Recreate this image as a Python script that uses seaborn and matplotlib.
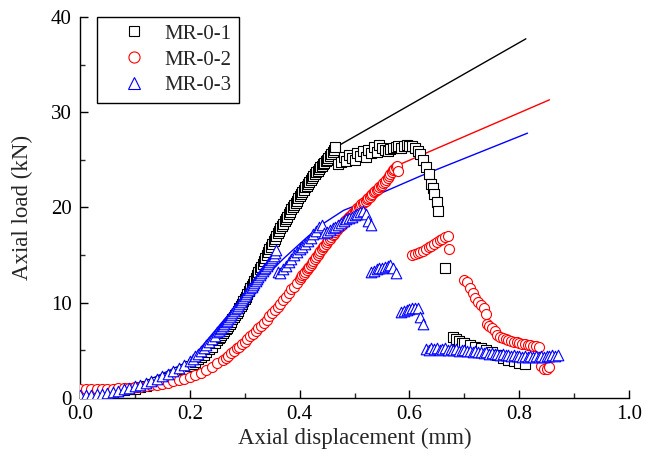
import numpy as np
import seaborn as sns
import matplotlib.pyplot as plt
from matplotlib.lines import Line2D
from matplotlib.ticker import MultipleLocator

# test points, (axial displacement mm, axial load kN), one list per branch
mr1_toe = [(0.00, 0.30), (0.01, 0.32), (0.02, 0.35), (0.03, 0.40), (0.04, 0.46), (0.05, 0.53),
           (0.06, 0.60), (0.07, 0.70), (0.08, 0.80), (0.09, 0.90), (0.10, 1.00), (0.11, 1.15),
           (0.12, 1.30), (0.13, 1.50), (0.14, 1.70), (0.15, 1.90), (0.16, 2.10), (0.17, 2.40),
           (0.18, 2.70), (0.19, 3.00), (0.200, 3.40), (0.205, 3.60), (0.210, 3.80), (0.215, 4.05),
           (0.220, 4.30), (0.225, 4.55), (0.230, 4.80), (0.235, 5.10), (0.240, 5.40), (0.245, 5.75)]
mr1_rise = [(0.2500, 6.10), (0.2525, 6.25), (0.2550, 6.40), (0.2575, 6.60), (0.2600, 6.80),
            (0.2625, 7.00), (0.2650, 7.20), (0.2675, 7.40), (0.2700, 7.60), (0.2725, 7.80),
            (0.2750, 8.00), (0.2775, 8.25), (0.2800, 8.50), (0.2825, 8.70), (0.2850, 8.90),
            (0.2875, 9.15), (0.2900, 9.40), (0.2925, 9.65), (0.2950, 9.90), (0.2975, 10.15),
            (0.3000, 10.40), (0.3025, 10.65), (0.3050, 10.90), (0.3075, 11.20), (0.3100, 11.50),
            (0.3125, 11.75), (0.3150, 12.00), (0.3175, 12.30), (0.3200, 12.60), (0.3225, 12.90),
            (0.3250, 13.20), (0.3275, 13.50), (0.3300, 13.80), (0.3325, 14.10), (0.3350, 14.40),
            (0.3375, 14.70), (0.3400, 15.00), (0.3425, 15.30), (0.3450, 15.60), (0.3475, 15.90),
            (0.3500, 16.20), (0.3525, 16.45), (0.3550, 16.70), (0.3575, 17.00), (0.3600, 17.30),
            (0.3625, 17.55), (0.3650, 17.80), (0.3675, 18.05), (0.3700, 18.30), (0.3725, 18.55),
            (0.3750, 18.80), (0.3775, 19.05), (0.3800, 19.30), (0.3825, 19.55), (0.3850, 19.80),
            (0.3875, 20.05), (0.3900, 20.30), (0.3925, 20.50), (0.3950, 20.70), (0.3975, 20.95),
            (0.4000, 21.20), (0.4025, 21.40), (0.4050, 21.60), (0.4075, 21.85), (0.4100, 22.10),
            (0.4125, 22.30), (0.4150, 22.50), (0.4175, 22.70), (0.4200, 22.90), (0.4225, 23.10),
            (0.4250, 23.30), (0.4275, 23.50), (0.4300, 23.70), (0.4325, 23.85), (0.4350, 24.00),
            (0.4375, 24.20), (0.4400, 24.40), (0.4425, 24.55), (0.4450, 24.70), (0.4475, 24.85),
            (0.4500, 25.00), (0.4525, 25.20), (0.4550, 25.40), (0.4575, 25.60), (0.4600, 25.80),
            (0.4625, 26.05), (0.4650, 26.30)]
mr1_post = [(0.470, 24.6), (0.475, 24.8), (0.480, 25.3), (0.485, 24.9), (0.490, 25.5),
            (0.495, 25.2), (0.500, 25.0), (0.505, 25.7), (0.510, 25.4), (0.515, 25.9),
            (0.520, 25.3), (0.525, 26.0), (0.530, 25.7), (0.535, 26.3), (0.540, 25.8),
            (0.545, 26.6), (0.550, 26.2), (0.555, 26.0), (0.560, 25.9), (0.565, 26.1),
            (0.570, 26.2), (0.575, 26.3), (0.580, 26.4), (0.585, 26.2), (0.590, 26.5),
            (0.595, 26.6), (0.600, 26.4), (0.605, 26.5), (0.610, 26.2), (0.615, 25.9),
            (0.620, 25.6), (0.625, 25.0), (0.630, 24.3), (0.635, 23.5), (0.640, 22.5),
            (0.642, 22.0), (0.645, 21.4), (0.650, 20.6), (0.652, 19.6), (0.665, 13.6),
            (0.680, 6.4), (0.685, 6.2), (0.690, 6.0), (0.695, 5.8), (0.700, 5.8), (0.710, 5.6),
            (0.720, 5.4), (0.730, 5.2), (0.740, 5.0), (0.750, 4.8), (0.760, 4.5), (0.770, 4.2),
            (0.780, 4.0), (0.790, 3.9), (0.800, 3.7), (0.810, 3.6)]

mr2_toe = [(0.00, 0.90), (0.01, 0.90), (0.02, 0.92), (0.03, 0.94), (0.04, 0.96), (0.05, 0.98),
           (0.06, 1.00), (0.07, 1.03), (0.08, 1.06), (0.09, 1.10), (0.10, 1.15), (0.11, 1.20),
           (0.12, 1.26), (0.13, 1.33), (0.14, 1.42), (0.15, 1.52), (0.16, 1.63), (0.17, 1.76),
           (0.18, 1.90), (0.19, 2.05), (0.20, 2.20), (0.21, 2.40), (0.22, 2.65), (0.23, 2.95),
           (0.24, 3.30), (0.25, 3.65), (0.260, 4.0), (0.265, 4.2), (0.270, 4.4), (0.275, 4.7),
           (0.280, 4.9), (0.285, 5.2), (0.290, 5.4), (0.295, 5.7), (0.300, 5.9), (0.305, 6.2),
           (0.310, 6.5), (0.315, 6.7), (0.320, 7.0), (0.325, 7.3), (0.330, 7.6), (0.335, 7.9),
           (0.340, 8.2), (0.345, 8.6), (0.350, 8.9), (0.355, 9.2), (0.360, 9.6), (0.365, 9.9),
           (0.370, 10.3), (0.375, 10.6), (0.380, 11.0), (0.385, 11.4), (0.390, 11.7),
           (0.395, 12.1)]
mr2_rise = [(0.4000, 12.50), (0.4025, 12.70), (0.4050, 12.90), (0.4075, 13.05), (0.4100, 13.20),
            (0.4125, 13.40), (0.4150, 13.60), (0.4175, 13.80), (0.4200, 14.00), (0.4225, 14.20),
            (0.4250, 14.40), (0.4275, 14.60), (0.4300, 14.80), (0.4325, 15.00), (0.4350, 15.20),
            (0.4375, 15.40), (0.4400, 15.60), (0.4425, 15.80), (0.4450, 16.00), (0.4475, 16.20),
            (0.4500, 16.40), (0.4525, 16.55), (0.4550, 16.70), (0.4575, 16.90), (0.4600, 17.10),
            (0.4625, 17.25), (0.4650, 17.40), (0.4675, 17.60), (0.4700, 17.80), (0.4725, 17.95),
            (0.4750, 18.10), (0.4775, 18.25), (0.4800, 18.40), (0.4825, 18.55), (0.4850, 18.70),
            (0.4875, 18.85), (0.4900, 19.00), (0.4925, 19.15), (0.4950, 19.30), (0.4975, 19.45),
            (0.5000, 19.60), (0.5025, 19.75), (0.5050, 19.90), (0.5075, 20.05), (0.5100, 20.20),
            (0.5125, 20.35), (0.5150, 20.50), (0.5175, 20.60), (0.5200, 20.70), (0.5225, 20.85),
            (0.5250, 21.00), (0.5275, 21.15), (0.5300, 21.30), (0.5325, 21.45), (0.5350, 21.60),
            (0.5375, 21.70), (0.5400, 21.80), (0.5425, 21.95), (0.5450, 22.10), (0.5475, 22.25),
            (0.5500, 22.40), (0.5525, 22.55), (0.5550, 22.70), (0.5575, 22.90), (0.5600, 23.10),
            (0.5625, 23.30), (0.5650, 23.50), (0.5675, 23.70), (0.5700, 23.90), (0.5725, 24.05),
            (0.5750, 24.20), (0.5775, 24.40), (0.5800, 23.80)]
mr2_post = [(0.605, 15.0), (0.610, 15.1), (0.615, 15.2), (0.620, 15.3), (0.625, 15.4),
            (0.630, 15.6), (0.635, 15.8), (0.640, 16.0), (0.645, 16.2), (0.650, 16.4),
            (0.655, 16.6), (0.660, 16.7), (0.665, 16.9), (0.670, 17.0), (0.672, 15.6),
            (0.700, 12.4), (0.705, 12.2), (0.710, 11.6), (0.715, 11.0), (0.720, 10.5),
            (0.725, 10.1), (0.730, 9.8), (0.735, 9.4), (0.740, 8.8), (0.742, 7.8), (0.745, 7.6),
            (0.750, 7.3), (0.755, 7.0), (0.760, 6.6), (0.765, 6.4), (0.770, 6.3), (0.775, 6.2),
            (0.780, 6.1), (0.785, 6.0), (0.790, 5.9), (0.795, 5.9), (0.800, 5.8), (0.805, 5.7),
            (0.810, 5.7), (0.815, 5.6), (0.820, 5.6), (0.825, 5.5), (0.830, 5.5), (0.835, 5.4),
            (0.840, 3.4), (0.845, 3.1), (0.850, 3.0), (0.855, 3.3)]

mr3_toe = [(0.00, 0.30), (0.01, 0.32), (0.02, 0.35), (0.03, 0.40), (0.04, 0.47), (0.05, 0.55),
           (0.06, 0.65), (0.07, 0.77), (0.08, 0.90), (0.09, 1.05), (0.10, 1.22), (0.11, 1.40),
           (0.12, 1.60), (0.13, 1.82), (0.14, 2.05), (0.15, 2.30), (0.16, 2.56), (0.17, 2.85),
           (0.18, 3.15), (0.19, 3.50), (0.200, 3.90), (0.205, 4.15), (0.210, 4.40), (0.215, 4.65),
           (0.220, 4.95), (0.225, 5.25), (0.230, 5.55), (0.235, 5.85), (0.240, 6.20),
           (0.245, 6.55)]
mr3_rise = [(0.2500, 6.90), (0.2525, 7.05), (0.2550, 7.25), (0.2575, 7.40), (0.2600, 7.60),
            (0.2625, 7.75), (0.2650, 7.95), (0.2675, 8.10), (0.2700, 8.30), (0.2725, 8.50),
            (0.2750, 8.70), (0.2775, 8.90), (0.2800, 9.10), (0.2825, 9.30), (0.2850, 9.50),
            (0.2875, 9.70), (0.2900, 9.90), (0.2925, 10.10), (0.2950, 10.30), (0.2975, 10.50),
            (0.3000, 10.70), (0.3025, 10.90), (0.3050, 11.10), (0.3075, 11.30), (0.3100, 11.50),
            (0.3125, 11.70), (0.3150, 11.90), (0.3175, 12.10), (0.3200, 12.30), (0.3225, 12.50),
            (0.3250, 12.70), (0.3275, 12.90), (0.3300, 13.10), (0.3325, 13.30), (0.3350, 13.50),
            (0.3375, 13.70), (0.3400, 13.90), (0.3425, 14.10), (0.3450, 14.30), (0.3475, 14.50),
            (0.3500, 14.70), (0.3525, 14.95), (0.3550, 15.20), (0.3575, 15.50)]
mr3_post = [(0.360, 13.2), (0.365, 13.1), (0.370, 13.5), (0.375, 13.9), (0.380, 14.3),
            (0.385, 14.6), (0.390, 15.0), (0.395, 15.3), (0.400, 15.6), (0.405, 15.9),
            (0.410, 16.2), (0.415, 16.5), (0.420, 16.8), (0.425, 17.2), (0.430, 17.5),
            (0.435, 17.9), (0.440, 18.2), (0.445, 17.3), (0.450, 17.4), (0.455, 17.6),
            (0.460, 17.8), (0.465, 18.0), (0.470, 18.2), (0.475, 18.4), (0.480, 18.6),
            (0.485, 18.8), (0.490, 18.9), (0.495, 19.0), (0.500, 19.2), (0.505, 19.3),
            (0.510, 19.5), (0.515, 19.6), (0.520, 19.3), (0.525, 18.6), (0.530, 18.2),
            (0.530, 13.2), (0.535, 13.3), (0.540, 13.5), (0.545, 13.6), (0.550, 13.7),
            (0.555, 13.8), (0.560, 13.9), (0.565, 14.0), (0.570, 13.6), (0.575, 13.1),
            (0.585, 9.0), (0.590, 9.1), (0.595, 9.2), (0.600, 9.3), (0.605, 9.4), (0.610, 9.5),
            (0.615, 9.4), (0.620, 8.5), (0.625, 7.8),
            (0.630, 5.1), (0.635, 5.0), (0.640, 5.2), (0.645, 5.1), (0.650, 5.2), (0.655, 5.0),
            (0.660, 5.1), (0.665, 5.2), (0.670, 5.0), (0.675, 5.1), (0.680, 5.0), (0.685, 5.1),
            (0.690, 4.9), (0.695, 5.0), (0.700, 5.0), (0.705, 4.9), (0.710, 4.9), (0.715, 4.8),
            (0.720, 4.9), (0.725, 4.8), (0.730, 4.8), (0.735, 4.7), (0.740, 4.8), (0.745, 4.6),
            (0.750, 4.7), (0.755, 4.6), (0.760, 4.6), (0.765, 4.5), (0.770, 4.6), (0.775, 4.5),
            (0.780, 4.5), (0.785, 4.4), (0.790, 4.5), (0.795, 4.4), (0.800, 4.4), (0.805, 4.3),
            (0.810, 4.4), (0.815, 4.3), (0.820, 4.4), (0.825, 4.3), (0.830, 4.4), (0.835, 4.3),
            (0.840, 4.4), (0.845, 4.3), (0.850, 4.4), (0.855, 4.4), (0.860, 4.5), (0.865, 4.4),
            (0.870, 4.5)]

# thin curves drawn with each series
mr1_line_x = [0.00, 0.10, 0.20, 0.30, 0.40, 0.465, 0.812]
mr1_line_y = [0.30, 1.00, 3.40, 10.4, 21.2, 26.3, 37.7]
mr2_line_x = [0.00, 0.20, 0.30, 0.40, 0.50, 0.5775, 0.855]
mr2_line_y = [0.90, 2.20, 5.90, 12.5, 19.6, 24.4, 31.3]
mr3_line_x = [0.00, 0.10, 0.20, 0.30, 0.33, 0.37, 0.41, 0.44, 0.48, 0.515, 0.54, 0.58, 0.62, 0.815]
mr3_line_y = [0.30, 1.22, 3.90, 10.8, 12.3, 14.6, 16.7, 18.2, 19.7, 20.5, 21.3, 22.3, 23.3, 27.8]

labels = ["MR-0-1", "MR-0-2", "MR-0-3"]
colors = ["black", "#ff0000", "#0000ff"]
markers = ["s", "o", "^"]
sizes = [42, 52, 58]

sns.set_style("ticks")
plt.rcParams['font.family'] = ['Liberation Serif', 'DejaVu Serif']

fig = plt.figure(figsize=(6.56, 4.57), dpi=100)
ax = fig.add_axes([0.122, 0.129, 0.837, 0.834])

points = [mr1_toe + mr1_rise + mr1_post,
          mr2_toe + mr2_rise + mr2_post,
          mr3_toe + mr3_rise + mr3_post]
lines = [(mr1_line_x, mr1_line_y), (mr2_line_x, mr2_line_y), (mr3_line_x, mr3_line_y)]

for i, (lx, ly) in enumerate(lines):
    sns.lineplot(x=lx, y=ly, color=colors[i], linewidth=1.0, sort=False,
                 estimator=None, ax=ax, zorder=2)

for i, pts in enumerate(points):
    px, py = np.array(pts).T
    sns.scatterplot(x=px, y=py, marker=markers[i], s=sizes[i], color=colors[i],
                    facecolor="white", edgecolor=colors[i], linewidth=0.8, ax=ax, zorder=3 + i)

ax.set_xlim(0, 1.0)
ax.set_ylim(0, 40)
ax.xaxis.set_major_locator(MultipleLocator(0.2))
ax.xaxis.set_minor_locator(MultipleLocator(0.1))
ax.yaxis.set_major_locator(MultipleLocator(10))
ax.yaxis.set_minor_locator(MultipleLocator(5))
ax.set_xticklabels([f"{v:.1f}" for v in ax.get_xticks()])
ax.tick_params(which="major", direction="in", length=6, width=1, labelsize=15, colors="black")
ax.tick_params(which="minor", direction="in", length=3.5, width=1)
ax.tick_params(axis="x", pad=5)
ax.tick_params(axis="y", pad=6)
sns.despine(ax=ax)
for sp in ["left", "bottom"]:
    ax.spines[sp].set_linewidth(1)
    ax.spines[sp].set_color("black")

ax.set_xlabel("Axial displacement (mm)", fontsize=16.5, labelpad=3)
ax.set_ylabel("Axial load (kN)", fontsize=16.5, labelpad=13)

handles = [Line2D([], [], linestyle="none", marker=markers[i], markersize=[7, 8, 8.5][i],
                  markerfacecolor="white", markeredgecolor=colors[i], markeredgewidth=0.8)
           for i in range(3)]
leg = ax.legend(handles, labels, loc="upper left", bbox_to_anchor=(0.031, 1.0),
                borderaxespad=0, fontsize=15, frameon=True, fancybox=False,
                edgecolor="black", framealpha=1, handlelength=2.8, handletextpad=0.1,
                borderpad=0.35, labelspacing=0.3)
leg.get_frame().set_linewidth(1)

fig.savefig("out.png", dpi=100)
